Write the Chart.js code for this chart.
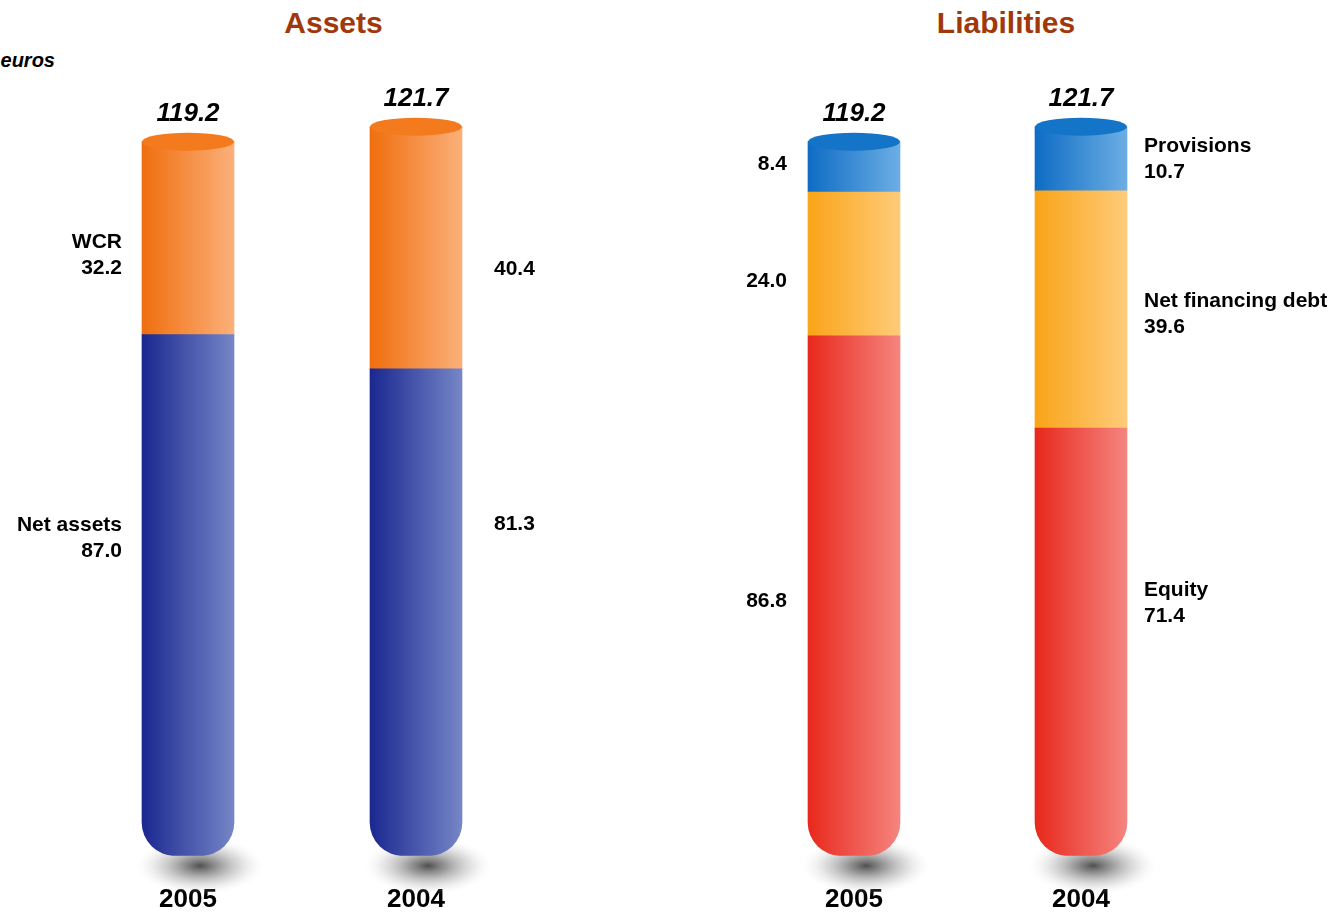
<!DOCTYPE html>
<html lang="en">
<head>
    <meta charset="UTF-8">
    <title>Assets and Liabilities</title>
    <script src="https://cdn.jsdelivr.net/npm/chart.js"></script>
    <style>
        html, body {
            margin: 0;
            padding: 0;
            background: #fff;
            overflow: hidden;
        }

        #page {
            position: relative;
            width: 1335px;
            height: 913px;
            overflow: hidden;
            font-family: 'Liberation Sans', Arial, sans-serif;
        }

        .title {
            position: absolute;
            top: 3px;
            line-height: 40px;
            font-size: 30px;
            font-weight: bold;
            color: #a0380a;
            text-align: center;
        }

        .unit {
            position: absolute;
            top: 49px;
            right: 1280px;
            white-space: nowrap;
            font-size: 20px;
            line-height: 22px;
            font-weight: bold;
            font-style: italic;
        }

        canvas {
            position: absolute;
            top: 0;
        }
    </style>
</head>
<body>
<div id="page">
    <div class="unit">In millions of euros</div>
    <div class="title" style="left:0; width:667px;">Assets</div>
    <div class="title" style="left:677px; width:658px;">Liabilities</div>
    <canvas id="assetsChart" width="667" height="945" style="left:0;"></canvas>
    <canvas id="liabChart" width="668" height="945" style="left:667px;"></canvas>
</div>

<script>
    // data (millions of euros)
    var years = ['2005', '2004'];

    var netAssets = [87.0, 81.3];
    var wcr = [32.2, 40.4];
    var assetTotals = [119.2, 121.7];

    var equity = [86.8, 71.4];
    var netDebt = [24.0, 39.6];
    var provisions = [8.4, 10.7];
    var liabTotals = [119.2, 121.7];

    var FONT = "'Liberation Sans', Arial, sans-serif";
    var BAR_W = 92;

    // horizontal gradient across each bar, dark on the left
    function cylinderFill(dark, light) {
        return function(c) {
            var chart = c.chart;
            if (!chart.chartArea || !chart.scales.x) return dark;
            var x = chart.scales.x.getPixelForValue(c.dataIndex);
            var g = chart.ctx.createLinearGradient(x - BAR_W / 2, 0, x + BAR_W / 2, 0);
            g.addColorStop(0, dark);
            g.addColorStop(1, light);
            return g;
        };
    }

    function makeDataset(name, values, dark, light, cap, isBottom) {
        return {
            label: name,
            data: values,
            backgroundColor: cylinderFill(dark, light),
            capColor: cap,
            borderWidth: 0,
            borderSkipped: false,
            borderRadius: isBottom ? {topLeft: 0, topRight: 0, bottomLeft: 34, bottomRight: 34} : 0,
            barThickness: BAR_W
        };
    }

    var cylinders = {
        id: 'cylinders',
        beforeDatasetsDraw: function(chart) {
            var ctx = chart.ctx;
            // soft grey shadow under each cylinder
            chart.getDatasetMeta(0).data.forEach(function(el) {
                var cx = el.x + 12, cy = el.base + 10;
                ctx.save();
                ctx.translate(cx, cy);
                ctx.scale(1, 0.45);
                var g = ctx.createRadialGradient(0, 0, 0, 0, 0, 64);
                g.addColorStop(0, 'rgba(60,60,60,0.9)');
                g.addColorStop(0.3, 'rgba(105,105,105,0.65)');
                g.addColorStop(0.65, 'rgba(165,165,165,0.35)');
                g.addColorStop(1, 'rgba(235,235,235,0)');
                ctx.fillStyle = g;
                ctx.beginPath();
                ctx.arc(0, 0, 64, 0, Math.PI * 2);
                ctx.fill();
                ctx.restore();
            });
        },
        afterDatasetsDraw: function(chart, args, opts) {
            var ctx = chart.ctx;
            var sets = chart.data.datasets;
            var topIdx = sets.length - 1;

            // top face of the cylinder and the total above it
            chart.getDatasetMeta(topIdx).data.forEach(function(el, i) {
                ctx.save();
                ctx.fillStyle = sets[topIdx].capColor;
                ctx.beginPath();
                ctx.ellipse(el.x, el.y, el.width / 2, 9, 0, 0, Math.PI * 2);
                ctx.fill();

                ctx.font = 'italic bold 26px ' + FONT;
                ctx.fillStyle = '#000';
                ctx.textAlign = 'center';
                ctx.textBaseline = 'middle';
                ctx.fillText(opts.totals[i].toFixed(1), el.x, el.y - 28);
                ctx.restore();
            });

            // segment labels beside the bars
            ctx.save();
            ctx.font = 'bold 21px ' + FONT;
            ctx.fillStyle = '#000';
            ctx.textBaseline = 'middle';
            sets.forEach(function(ds, d) {
                chart.getDatasetMeta(d).data.forEach(function(el, i) {
                    // where in the segment (0 = top, 1 = bottom) the label sits
                    var f = opts.anchor[d][i];
                    var yc = el.y + (el.base - el.y) * f;
                    var x;
                    if (i === 0) {
                        ctx.textAlign = 'right';
                        x = el.x - el.width / 2 - opts.gapLeft;
                    } else {
                        ctx.textAlign = 'left';
                        x = el.x + el.width / 2 + opts.gapRight;
                    }
                    var val = ds.data[i].toFixed(1);
                    if (i === opts.nameBar) {
                        ctx.fillText(ds.label, x, yc - 13);
                        ctx.fillText(val, x, yc + 13);
                    } else {
                        ctx.fillText(val, x, yc);
                    }
                });
            });
            ctx.restore();
        }
    };

    function buildChart(id, datasets, padding, labelOpts) {
        return new Chart(document.getElementById(id), {
            type: 'bar',
            data: { labels: years, datasets: datasets },
            plugins: [cylinders],
            options: {
                responsive: false,
                animation: false,
                layout: { padding: padding },
                plugins: {
                    legend: { display: false },
                    tooltip: { enabled: false },
                    cylinders: labelOpts
                },
                scales: {
                    x: {
                        stacked: true,
                        grid: { display: false, drawTicks: false },
                        border: { display: false },
                        ticks: {
                            color: '#000',
                            padding: 28,
                            font: { family: FONT, size: 26, weight: 'bold' }
                        }
                    },
                    y: {
                        stacked: true,
                        display: false,
                        min: 0,
                        max: 130
                    }
                }
            }
        });
    }

    buildChart('assetsChart', [
        makeDataset('Net assets', netAssets, '#1a2790', '#7686c6', '#2a3a9a', true),
        makeDataset('WCR', wcr, '#f06e0e', '#fbb07a', '#f47a1e', false)
    ], { top: 77, bottom: 2, left: 74, right: 137 },
       { totals: assetTotals, nameBar: 0, gapLeft: 20, gapRight: 32,
         anchor: [[0.39, 0.32], [0.59, 0.59]] });

    buildChart('liabChart', [
        makeDataset('Equity', equity, '#e8281c', '#f5857f', '#ec4a3a', true),
        makeDataset('Net financing debt', netDebt, '#f9a418', '#ffcb7a', '#fbb040', false),
        makeDataset('Provisions', provisions, '#0e6cc4', '#6caee4', '#1474c8', false)
    ], { top: 77, bottom: 2, left: 73.5, right: 140.5 },
       { totals: liabTotals, nameBar: 1, gapLeft: 21, gapRight: 17,
         anchor: [[0.51, 0.41], [0.62, 0.52], [0.45, 0.5]] });
</script>
</body>
</html>
